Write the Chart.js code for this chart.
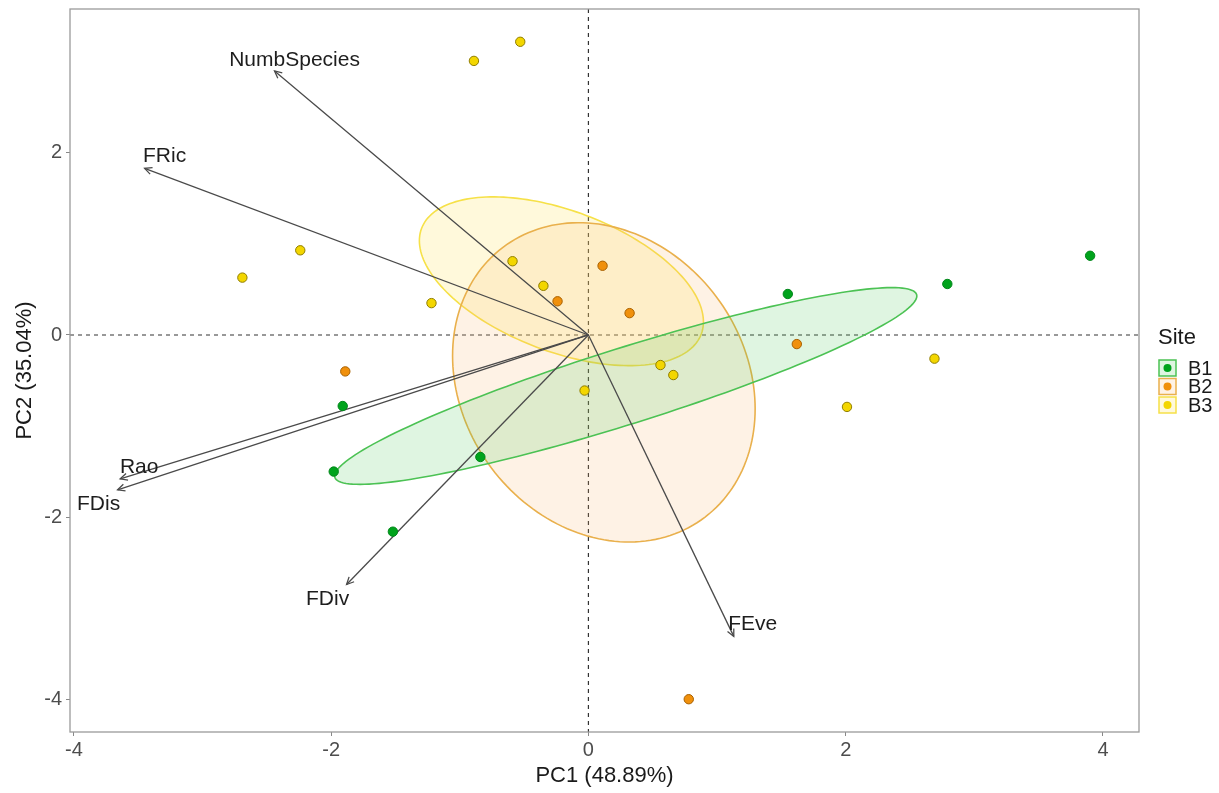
<!DOCTYPE html>
<html>
<head>
<meta charset="utf-8">
<script src="https://cdn.jsdelivr.net/npm/chart.js@4.4.0/dist/chart.umd.min.js"></script>
<style>
body{margin:0;background:#fff;}
#wrap{width:1219px;height:793px;}
</style>
</head>
<body>
<div id="wrap"><canvas id="chart" width="1219" height="793"></canvas></div>
<script>
// PCA scores per site
const siteNames = ['B1','B2','B3'];
const b1X = [3.90, 2.79, 1.55, -1.91, -1.98, -0.84, -1.52];
const b1Y = [0.87, 0.56, 0.45, -0.78, -1.50, -1.34, -2.16];
const b2X = [-0.24, 0.11, 0.32, 1.62, -1.89, 0.78];
const b2Y = [0.37, 0.76, 0.24, -0.10, -0.40, -4.00];
const b3X = [-0.89, -0.53, -2.24, -2.69, -1.22, -0.59, -0.35, -0.03, 0.56, 0.66, 2.69, 2.01];
const b3Y = [3.01, 3.22, 0.93, 0.63, 0.35, 0.81, 0.54, -0.61, -0.33, -0.44, -0.26, -0.79];

// variable loadings (arrow tips)
const varNames = ['NumbSpecies','FRic','Rao','FDis','FDiv','FEve'];
const varX = [-2.44, -3.45, -3.64, -3.66, -1.88, 1.13];
const varY = [2.90, 1.83, -1.58, -1.70, -2.74, -3.31];

// confidence ellipses: centre + two semi-axis vectors (PC units)
const ellCx = [0.29, 0.12, -0.21];
const ellCy = [-0.56, -0.52, 0.59];
const ellAx = [2.257, 1.176, 1.104];
const ellAy = [1.017, -0.291, -0.445];
const ellBx = [-0.164, 0, 0];
const ellBy = [0.365, 1.729, 0.813];

const xTicks = [-4, -2, 0, 2, 4];
const yTicks = [-4, -2, 0, 2];

const ptFill = ['#00a31c', '#f0900c', '#f3d600'];
const ptEdge = ['#00861a', '#a86000', '#8f7d00'];
const ellStroke = ['#4cc254', '#e9b04c', '#f6e148'];
const ellFill = ['rgba(80,200,90,0.18)', 'rgba(250,185,110,0.18)', 'rgba(255,228,90,0.22)'];
// label offsets from arrow tip, px
const labOff = [[20,-11],[20,-12],[19,-12],[-19,14],[-19,15],[19,-12]];

Chart.defaults.font.family = '"Liberation Sans", Arial, sans-serif';

const toPts = (xs, ys) => xs.map((x, i) => ({x: x, y: ys[i]}));

let datasets = [];
[[b1X,b1Y],[b2X,b2Y],[b3X,b3Y]].forEach((s, i) => {
  datasets.push({
    type: 'scatter',
    label: siteNames[i],
    data: toPts(s[0], s[1]),
    backgroundColor: ptFill[i],
    borderColor: ptEdge[i],
    borderWidth: 1,
    pointRadius: 4.7,
    order: 1
  });
});
varNames.forEach((n, i) => {
  datasets.push({
    type: 'line',
    label: n,
    data: [{x: 0, y: 0}, {x: varX[i], y: varY[i]}],
    borderColor: '#4a4a4a',
    borderWidth: 1.3,
    pointRadius: 0,
    fill: false,
    order: 2
  });
});

const biplot = {
  id: 'biplot',
  beforeDatasetsDraw(chart) {
    const {ctx, chartArea: a, scales: {x, y}} = chart;
    ctx.save();
    // zero lines
    ctx.strokeStyle = '#333';
    ctx.lineWidth = 1.2;
    ctx.setLineDash([4, 4]);
    ctx.beginPath();
    ctx.moveTo(x.getPixelForValue(0), a.top);
    ctx.lineTo(x.getPixelForValue(0), a.bottom);
    ctx.moveTo(a.left, y.getPixelForValue(0));
    ctx.lineTo(a.right, y.getPixelForValue(0));
    ctx.stroke();
    ctx.setLineDash([]);
    // ellipses, drawn last site first
    for (let i = 2; i >= 0; i--) {
      ctx.beginPath();
      for (let k = 0; k <= 180; k++) {
        const t = k / 180 * Math.PI * 2;
        const vx = ellCx[i] + ellAx[i] * Math.cos(t) + ellBx[i] * Math.sin(t);
        const vy = ellCy[i] + ellAy[i] * Math.cos(t) + ellBy[i] * Math.sin(t);
        const px = x.getPixelForValue(vx), py = y.getPixelForValue(vy);
        if (k === 0) ctx.moveTo(px, py); else ctx.lineTo(px, py);
      }
      ctx.closePath();
      ctx.fillStyle = ellFill[i];
      ctx.fill();
      ctx.strokeStyle = ellStroke[i];
      ctx.lineWidth = 1.6;
      ctx.stroke();
    }
    ctx.restore();
  },
  afterDatasetsDraw(chart) {
    const {ctx, chartArea: a, scales: {x, y}} = chart;
    ctx.save();
    const ox = x.getPixelForValue(0), oy = y.getPixelForValue(0);
    varNames.forEach((n, i) => {
      const tx = x.getPixelForValue(varX[i]), ty = y.getPixelForValue(varY[i]);
      const ang = Math.atan2(ty - oy, tx - ox);
      ctx.strokeStyle = '#4a4a4a';
      ctx.lineWidth = 1.3;
      ctx.beginPath();
      ctx.moveTo(tx - 8 * Math.cos(ang - 0.45), ty - 8 * Math.sin(ang - 0.45));
      ctx.lineTo(tx, ty);
      ctx.lineTo(tx - 8 * Math.cos(ang + 0.45), ty - 8 * Math.sin(ang + 0.45));
      ctx.stroke();
      ctx.fillStyle = '#1e1e1e';
      ctx.font = '21px "Liberation Sans", Arial, sans-serif';
      ctx.textAlign = 'center';
      ctx.textBaseline = 'middle';
      ctx.fillText(n, tx + labOff[i][0], ty + labOff[i][1]);
    });
    // panel frame
    ctx.strokeStyle = '#9a9a9a';
    ctx.lineWidth = 1.3;
    ctx.strokeRect(a.left, a.top, a.right - a.left, a.bottom - a.top);
    // legend
    ctx.fillStyle = '#1a1a1a';
    ctx.font = '22px "Liberation Sans", Arial, sans-serif';
    ctx.textAlign = 'left';
    ctx.textBaseline = 'middle';
    ctx.fillText('Site', 1158, 338);
    siteNames.forEach((s, i) => {
      const top = 360 + i * 18.5;
      ctx.fillStyle = ellFill[i];
      ctx.fillRect(1159, top, 17, 16);
      ctx.strokeStyle = ellStroke[i];
      ctx.lineWidth = 1.5;
      ctx.strokeRect(1159, top, 17, 16);
      ctx.beginPath();
      ctx.arc(1167.5, top + 8, 4, 0, Math.PI * 2);
      ctx.fillStyle = ptFill[i];
      ctx.fill();
      ctx.fillStyle = '#1a1a1a';
      ctx.font = '20px "Liberation Sans", Arial, sans-serif';
      ctx.fillText(s, 1188, top + 9);
    });
    ctx.restore();
  }
};

new Chart(document.getElementById('chart'), {
  type: 'scatter',
  data: {datasets: datasets},
  options: {
    responsive: false,
    animation: false,
    devicePixelRatio: 1,
    events: [],
    layout: {padding: {left: 0, right: 80, top: 9, bottom: 0}},
    plugins: {legend: {display: false}, tooltip: {enabled: false}},
    scales: {
      x: {
        type: 'linear',
        min: -4.03,
        max: 4.28,
        afterBuildTicks: s => { s.ticks = xTicks.map(v => ({value: v})); },
        afterFit: s => { s.height = 61; s.paddingLeft = 0; s.paddingRight = 0; },
        grid: {display: true, drawOnChartArea: false, drawTicks: true, tickLength: 4, color: '#888'},
        border: {display: false},
        ticks: {font: {size: 20}, color: '#4d4d4d', padding: 2},
        title: {display: true, text: 'PC1 (48.89%)', font: {size: 22}, color: '#1a1a1a', padding: {top: 0, bottom: 4}}
      },
      y: {
        type: 'linear',
        min: -4.36,
        max: 3.58,
        afterBuildTicks: s => { s.ticks = yTicks.map(v => ({value: v})); },
        afterFit: s => { s.width = 70; s.paddingTop = 0; s.paddingBottom = 0; },
        grid: {display: true, drawOnChartArea: false, drawTicks: true, tickLength: 4, color: '#888'},
        border: {display: false},
        ticks: {font: {size: 20}, color: '#4d4d4d', padding: 4},
        title: {display: true, text: 'PC2 (35.04%)', font: {size: 22}, color: '#1a1a1a', padding: {top: 12, bottom: 0}}
      }
    }
  },
  plugins: [biplot]
});
</script>
</body>
</html>
